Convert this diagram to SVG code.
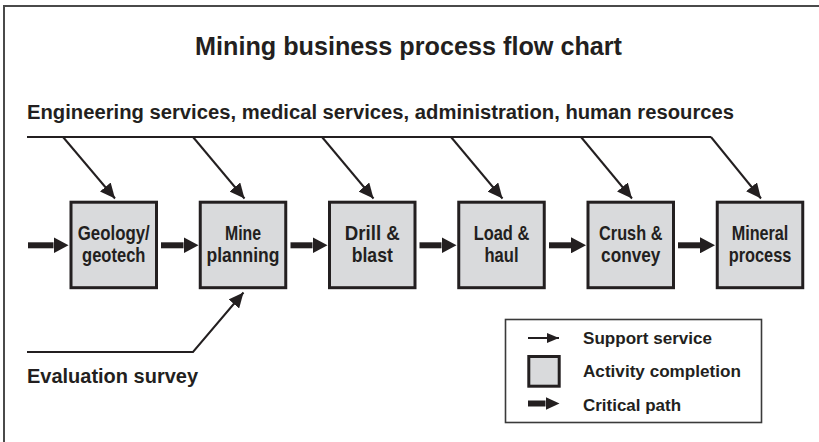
<svg xmlns="http://www.w3.org/2000/svg" width="819" height="442" viewBox="0 0 819 442">
<defs>
<style>
text{font-family:"Liberation Sans",Arial,sans-serif;font-weight:bold;fill:#231f20}
.box{fill:#d9dadc;stroke:#231f20;stroke-width:3}
.bt{font-size:21px;text-anchor:middle}
.sup{stroke:#231f20;stroke-width:2;fill:none}
.crit{stroke:#231f20;stroke-width:6;fill:none}
.lg{font-size:17px}
</style>
<marker id="ah" markerUnits="userSpaceOnUse" markerWidth="16" markerHeight="14" refX="15" refY="7" orient="auto">
<path d="M0,0 L15,7 L0,14 z" fill="#231f20"/>
</marker>
<marker id="ahs" markerUnits="userSpaceOnUse" markerWidth="13" markerHeight="10" refX="12" refY="5" orient="auto">
<path d="M0,0 L12,5 L0,10 z" fill="#231f20"/>
</marker>
<marker id="ch" markerUnits="userSpaceOnUse" markerWidth="15" markerHeight="16" refX="0" refY="8" orient="auto">
<path d="M0,0 L15,8 L0,16 z" fill="#231f20"/>
</marker>
<marker id="chs" markerUnits="userSpaceOnUse" markerWidth="14" markerHeight="14" refX="0" refY="6.5" orient="auto">
<path d="M0,0 L14,6.5 L0,13 z" fill="#231f20"/>
</marker>
</defs>
<rect width="819" height="442" fill="#fff"/>
<path d="M4,446 V6 H823" fill="none" stroke="#4a4a4a" stroke-width="2"/>
<text x="408.5" y="55" font-size="25" text-anchor="middle" textLength="427" lengthAdjust="spacingAndGlyphs">Mining business process flow chart</text>
<text x="27" y="119" font-size="20" textLength="707" lengthAdjust="spacingAndGlyphs">Engineering services, medical services, administration, human resources</text>
<text x="27" y="383" font-size="20" textLength="171" lengthAdjust="spacingAndGlyphs">Evaluation survey</text>
<g id="connectors">
<line class="sup" x1="27" y1="137" x2="711" y2="137"/>
<line class="sup" x1="63" y1="137" x2="115" y2="198.5" marker-end="url(#ah)"/>
<line class="sup" x1="193" y1="137" x2="244.5" y2="198.5" marker-end="url(#ah)"/>
<line class="sup" x1="322" y1="137" x2="373.5" y2="198.5" marker-end="url(#ah)"/>
<line class="sup" x1="451" y1="137" x2="502.5" y2="198.5" marker-end="url(#ah)"/>
<line class="sup" x1="581" y1="137" x2="632" y2="198.5" marker-end="url(#ah)"/>
<line class="sup" x1="711" y1="137" x2="761" y2="198.5" marker-end="url(#ah)"/>
<polyline class="sup" points="27,352 193,352 243.5,292.5" marker-end="url(#ah)"/>
<line class="crit" x1="28" y1="245.3" x2="53.5" y2="245.3" marker-end="url(#ch)"/>
<line class="crit" x1="161" y1="245.3" x2="183.5" y2="245.3" marker-end="url(#ch)"/>
<line class="crit" x1="290.5" y1="245.3" x2="312.5" y2="245.3" marker-end="url(#ch)"/>
<line class="crit" x1="419.5" y1="245.3" x2="441.5" y2="245.3" marker-end="url(#ch)"/>
<line class="crit" x1="549" y1="245.3" x2="571" y2="245.3" marker-end="url(#ch)"/>
<line class="crit" x1="678" y1="245.3" x2="700" y2="245.3" marker-end="url(#ch)"/>
</g>
<g id="n1"><rect class="box" x="71" y="202.2" width="85.5" height="85.5"/><text class="bt" x="113.75" y="240" textLength="72" lengthAdjust="spacingAndGlyphs">Geology/</text><text class="bt" x="113.75" y="262" textLength="63.3" lengthAdjust="spacingAndGlyphs">geotech</text></g>
<g id="n2"><rect class="box" x="200.25" y="202.2" width="85.5" height="85.5"/><text class="bt" x="243" y="240" textLength="36" lengthAdjust="spacingAndGlyphs">Mine</text><text class="bt" x="243" y="262" textLength="73" lengthAdjust="spacingAndGlyphs">planning</text></g>
<g id="n3"><rect class="box" x="329.5" y="202.2" width="85.5" height="85.5"/><text class="bt" x="372.25" y="240" textLength="55" lengthAdjust="spacingAndGlyphs">Drill &amp;</text><text class="bt" x="372.25" y="262" textLength="41" lengthAdjust="spacingAndGlyphs">blast</text></g>
<g id="n4"><rect class="box" x="458.75" y="202.2" width="85.5" height="85.5"/><text class="bt" x="501.5" y="240" textLength="55.7" lengthAdjust="spacingAndGlyphs">Load &amp;</text><text class="bt" x="501.5" y="262" textLength="34" lengthAdjust="spacingAndGlyphs">haul</text></g>
<g id="n5"><rect class="box" x="588" y="202.2" width="85.5" height="85.5"/><text class="bt" x="630.75" y="240" textLength="63.3" lengthAdjust="spacingAndGlyphs">Crush &amp;</text><text class="bt" x="630.75" y="262" textLength="59.3" lengthAdjust="spacingAndGlyphs">convey</text></g>
<g id="n6"><rect class="box" x="717.25" y="202.2" width="85.5" height="85.5"/><text class="bt" x="760" y="240" textLength="56.7" lengthAdjust="spacingAndGlyphs">Mineral</text><text class="bt" x="760" y="262" textLength="62.7" lengthAdjust="spacingAndGlyphs">process</text></g>
<g id="legend">
<rect x="505.5" y="319.5" width="256" height="103" fill="#fff" stroke="#3a3a3a" stroke-width="1.6"/>
<line class="sup" x1="528" y1="338" x2="559" y2="338" marker-end="url(#ahs)"/>
<text class="lg" x="583" y="344" textLength="129" lengthAdjust="spacingAndGlyphs">Support service</text>
<rect class="box" x="528.8" y="356.5" width="30.4" height="29.7"/>
<text class="lg" x="583" y="377" textLength="158" lengthAdjust="spacingAndGlyphs">Activity completion</text>
<line x1="528" y1="403.5" x2="545.5" y2="403.5" stroke="#231f20" stroke-width="6" marker-end="url(#chs)"/>
<text class="lg" x="583" y="411" textLength="98" lengthAdjust="spacingAndGlyphs">Critical path</text>
</g>
</svg>
